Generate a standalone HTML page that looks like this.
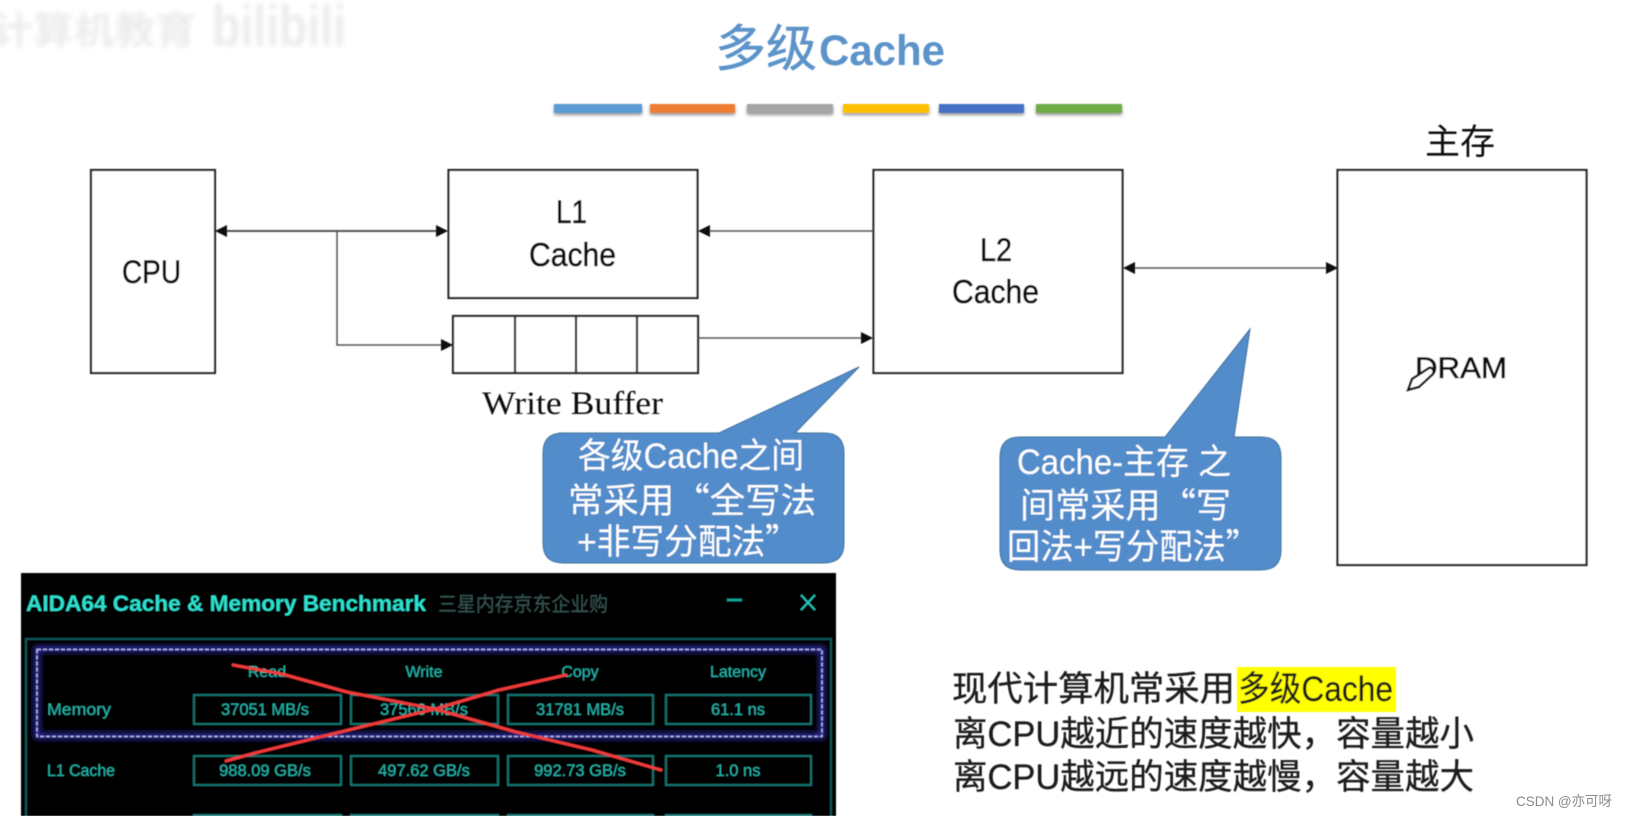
<!DOCTYPE html>
<html><head><meta charset="utf-8"><style>
html,body{margin:0;padding:0;background:#fff;width:1633px;height:816px;overflow:hidden}
svg{display:block}
text{font-family:"Liberation Sans","Noto Sans CJK SC",sans-serif}
.q{font-family:"Noto Sans CJK SC",sans-serif}
</style></head><body>
<svg width="1633" height="816" viewBox="0 0 1633 816" xmlns="http://www.w3.org/2000/svg">
<defs>
<filter id="b" x="-5%" y="-5%" width="110%" height="110%"><feGaussianBlur stdDeviation="0.6"/></filter>
<filter id="b2" x="-10%" y="-30%" width="120%" height="160%"><feGaussianBlur stdDeviation="2.5"/></filter>
<filter id="s" x="-5%" y="-50%" width="110%" height="250%"><feGaussianBlur stdDeviation="1.5"/></filter>
<filter id="g" x="-5%" y="-10%" width="110%" height="120%"><feGaussianBlur stdDeviation="3"/></filter>
</defs>

<!-- watermark -->
<g filter="url(#b2)" fill="#ececec" font-weight="bold">
<text x="-8" y="44" font-size="38" textLength="204" lengthAdjust="spacingAndGlyphs">计算机教育</text>
<text x="212" y="46" font-size="58" textLength="134" lengthAdjust="spacingAndGlyphs">bilibili</text>
</g>

<g filter="url(#b)">
<!-- title -->
<text x="715" y="66" font-size="50" fill="#5b93c9" stroke="#5b93c9" stroke-width=".5" textLength="102" lengthAdjust="spacingAndGlyphs">多级</text>
<text x="819" y="65" font-size="43" font-weight="bold" fill="#5b93c9" textLength="126" lengthAdjust="spacingAndGlyphs">Cache</text>

<!-- color bars -->
<g filter="url(#s)" fill="#777" opacity=".8">
<rect x="554" y="106" width="88" height="9"/><rect x="650" y="106" width="85" height="9"/><rect x="747" y="106" width="86" height="9"/>
<rect x="843" y="106" width="86" height="9"/><rect x="939" y="106" width="85" height="9"/><rect x="1036" y="106" width="86" height="9"/>
</g>
<rect x="554" y="104" width="88" height="9" fill="#5b9bd5"/>
<rect x="650" y="104" width="85" height="9" fill="#ed7d31"/>
<rect x="747" y="104" width="86" height="9" fill="#a5a5a5"/>
<rect x="843" y="104" width="86" height="9" fill="#ffc000"/>
<rect x="939" y="104" width="85" height="9" fill="#4472c4"/>
<rect x="1036" y="104" width="86" height="9" fill="#70ad47"/>

<!-- boxes -->
<g fill="#fff" stroke="#222" stroke-width="2.200">
<rect x="91" y="170" width="124" height="203"/>
<rect x="448.500" y="170" width="249" height="128"/>
<rect x="453" y="316" width="245" height="57"/>
<rect x="873.500" y="170" width="249" height="203"/>
<rect x="1337.500" y="170" width="249" height="395"/>
</g>
<path d="M515 316V373M576 316V373M637 316V373" stroke="#222" stroke-width="2.200" fill="none"/>

<!-- connectors -->
<g stroke="#555" fill="none">
<path d="M220 231H444" stroke-width="2"/>
<path d="M337 231V345H449" stroke-width="1.500"/>
<path d="M704 231H873" stroke-width="1.500"/>
<path d="M698 338H864" stroke-width="1.500"/>
<path d="M1128 268H1332" stroke-width="1.500"/>
</g>
<g fill="#111">
<path d="M215 231l12-6v12z"/>
<path d="M448 231l-12-6v12z"/>
<path d="M453 345l-12-6v12z"/>
<path d="M698 231l12-6v12z"/>
<path d="M873 338l-12-6v12z"/>
<path d="M1123 268l12-6v12z"/>
<path d="M1338 268l-12-6v12z"/>
</g>

<!-- box labels -->
<g fill="#111" stroke="#111" stroke-width=".6">
<text x="556" y="223" font-size="32" textLength="31" lengthAdjust="spacingAndGlyphs">L1</text>
<text x="529" y="266" font-size="33" textLength="87" lengthAdjust="spacingAndGlyphs">Cache</text>
<text x="122" y="283" font-size="32" textLength="59" lengthAdjust="spacingAndGlyphs">CPU</text>
<text x="980" y="261" font-size="32" textLength="32" lengthAdjust="spacingAndGlyphs">L2</text>
<text x="952" y="303" font-size="33" textLength="87" lengthAdjust="spacingAndGlyphs">Cache</text>
<text x="1415" y="378" font-size="30" textLength="92" lengthAdjust="spacingAndGlyphs">DRAM</text>
</g>
<text x="1425" y="154" font-size="35" fill="#111" textLength="70" lengthAdjust="spacingAndGlyphs">主存</text>
<text x="482" y="414" font-size="33" fill="#111" style="font-family:'Liberation Serif',serif" textLength="181" lengthAdjust="spacingAndGlyphs">Write Buffer</text>

<!-- pen cursor -->
<path d="M1408 390l4-11 17-11c3-1 6 2 4 6l-14 13z" fill="#fff" stroke="#111" stroke-width="2.500"/>

<!-- callouts -->
<path d="M559 433H719L859 367L795 433H824Q844 433 844 453V543Q844 563 824 563H563Q543 563 543 543V453Q543 433 563 433Z" fill="#538ccb" stroke="#41719c" stroke-width="1"/>
<path d="M1020 437H1165L1250 329L1234 437H1261Q1281 437 1281 457V550Q1281 570 1261 570H1020Q1000 570 1000 550V457Q1000 437 1020 437Z" fill="#538ccb" stroke="#41719c" stroke-width="1"/>
<g fill="#fff" font-size="35">
<text x="578" y="468" textLength="226" lengthAdjust="spacingAndGlyphs">各级Cache之间</text>
<text x="568" y="513" textLength="248" lengthAdjust="spacingAndGlyphs">常采用<tspan class="q">“</tspan>全写法</text>
<text x="577" y="554" textLength="222" lengthAdjust="spacingAndGlyphs">+非写分配法<tspan class="q">”</tspan></text>
<text x="1017" y="474" textLength="214" lengthAdjust="spacingAndGlyphs">Cache-主存 之</text>
<text x="1020" y="518" textLength="211" lengthAdjust="spacingAndGlyphs">间常采用<tspan class="q">“</tspan>写</text>
<text x="1007" y="559" textLength="252" lengthAdjust="spacingAndGlyphs">回法+写分配法<tspan class="q">”</tspan></text>
</g>

<!-- AIDA window -->
<rect x="21" y="573" width="815" height="243" fill="#000"/>
<text x="26" y="611" font-size="22" font-weight="bold" fill="#2fe0cf" textLength="400" lengthAdjust="spacingAndGlyphs">AIDA64 Cache &amp; Memory Benchmark</text>
<text x="438" y="611" font-size="20" fill="#35524f" textLength="170" lengthAdjust="spacingAndGlyphs">三星内存京东企业购</text>
<path d="M727 600H742" stroke="#1fa89c" stroke-width="2.500"/>
<path d="M801 595L815 610M815 595L801 610" stroke="#25c4b5" stroke-width="2"/>
<path d="M26 816V639H831V816" fill="none" stroke="#0e5552" stroke-width="2"/>
<rect x="37" y="649" width="785" height="87" fill="none" stroke="#2a2aa8" stroke-width="6" filter="url(#g)"/>
<rect x="37" y="649.500" width="785" height="87" fill="none" stroke="#b8b8e8" stroke-width="1.500" stroke-dasharray="4 2"/>
<g fill="#27b5aa" font-size="16" text-anchor="middle">
<text x="267" y="677">Read</text><text x="424" y="677">Write</text><text x="580" y="677">Copy</text><text x="738" y="677">Latency</text>
</g>
<g fill="none" stroke="#17716c" stroke-width="2">
<rect x="194" y="695" width="147" height="29"/><rect x="351" y="695" width="147" height="29"/><rect x="508" y="695" width="145" height="29"/><rect x="666" y="695" width="145" height="29"/>
<rect x="194" y="756" width="147" height="29"/><rect x="351" y="756" width="147" height="29"/><rect x="508" y="756" width="145" height="29"/><rect x="666" y="756" width="145" height="29"/>
<path d="M194 816V815H341V816M351 816V815H498V816M508 816V815H653V816M666 816V815H811V816"/>
</g>
<g fill="#27b5aa" font-size="16.500">
<text x="47" y="715" textLength="64" lengthAdjust="spacingAndGlyphs">Memory</text><text x="47" y="776" textLength="68" lengthAdjust="spacingAndGlyphs">L1 Cache</text>
<g text-anchor="middle">
<text x="265" y="715">37051 MB/s</text><text x="424" y="715">37566 MB/s</text><text x="580" y="715">31781 MB/s</text><text x="738" y="715">61.1 ns</text>
<text x="265" y="776">988.09 GB/s</text><text x="424" y="776">497.62 GB/s</text><text x="580" y="776">992.73 GB/s</text><text x="738" y="776">1.0 ns</text>
</g>
</g>
<g fill="none" stroke="#f03a3a" stroke-width="3" stroke-linecap="round" stroke-linejoin="round">
<path d="M233 665L282 674L347 692L435 709L516 732L592 750L661 770"/>
<path d="M226 761L255 753L320 737L369 725L435 709L499 690L566 675"/>
</g>

<!-- bottom-right text -->
<rect x="1237" y="667" width="159" height="45" fill="#ffff00"/>
<g fill="#1a1a1a" font-size="35" stroke="#1a1a1a" stroke-width=".3">
<text x="952" y="701" textLength="283" lengthAdjust="spacingAndGlyphs">现代计算机常采用</text>
<text x="1238" y="701" textLength="155" lengthAdjust="spacingAndGlyphs">多级Cache</text>
<text x="953" y="746" textLength="521" lengthAdjust="spacingAndGlyphs">离CPU越近的速度越快，容量越小</text>
<text x="953" y="789" textLength="521" lengthAdjust="spacingAndGlyphs">离CPU越远的速度越慢，容量越大</text>
</g>
</g>
<text x="1516" y="806" font-size="14" fill="#8a8a8a" textLength="96" lengthAdjust="spacingAndGlyphs">CSDN @亦可呀</text>
</svg>
</body></html>
